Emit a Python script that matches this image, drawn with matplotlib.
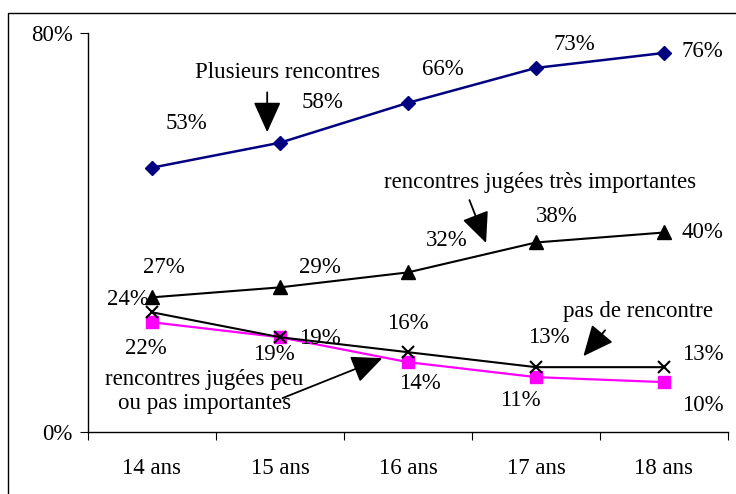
import matplotlib
matplotlib.use("Agg")
import matplotlib.pyplot as plt
from matplotlib.patches import Rectangle

# --------------------------------------------------------------------------- #
# data
# --------------------------------------------------------------------------- #
ages = ["14 ans", "15 ans", "16 ans", "17 ans", "18 ans"]
plusieurs = [53, 58, 66, 73, 76]
tres_importantes = [27, 29, 32, 38, 40]
pas_de_rencontre = [24, 19, 16, 13, 13]
peu_importantes = [22, 19, 14, 11, 10]

plt.rcParams["font.family"] = ["Liberation Serif", "DejaVu Serif"]
FS = 16.5

fig = plt.figure(figsize=(7.36, 4.94), dpi=100)
ax = fig.add_axes([88 / 736, 62 / 494, 640 / 736, 399 / 494])

x = list(range(len(ages)))
ax.plot(x, plusieurs, color="#000080", lw=1.8, marker="D", ms=7.5, zorder=3)
ax.plot(x, tres_importantes, color="black", lw=1.5, marker="^", ms=9.5, zorder=3)
ax.plot(x, peu_importantes, color="#ff00ff", lw=1.6, marker="s", ms=8.5,
        mfc="#ff00ff", mec="#ff00ff", zorder=3)
ax.plot(x, pas_de_rencontre, color="black", lw=1.5, marker="x", ms=9, mew=1.5, zorder=4)

ax.set_xlim(-0.5, 4.5)
ax.set_ylim(0, 80)

for s in ("top", "right"):
    ax.spines[s].set_visible(False)
for s in ("left", "bottom"):
    ax.spines[s].set_linewidth(1.0)

ax.set_yticks([0, 80])
ax.set_yticklabels(["0%", "80%"], fontsize=FS)
ax.tick_params(axis="y", direction="out", length=6, pad=5)

ax.set_xticks([-0.5, 0.5, 1.5, 2.5, 3.5, 4.5])
ax.set_xticklabels([])
ax.tick_params(axis="x", which="major", direction="out", length=6)
ax.set_xticks(x, minor=True)
ax.set_xticklabels(ages, minor=True, fontsize=FS)
ax.tick_params(axis="x", which="minor", length=0, pad=19)

# value labels (positions)
labels = [
    (0.27, 61.9, "53%"), (1.33, 66.1, "58%"), (2.27, 72.7, "66%"),
    (3.30, 77.6, "73%"), (4.30, 76.2, "76%"),
    (0.09, 32.9, "27%"), (1.31, 32.9, "29%"), (2.30, 38.3, "32%"),
    (3.16, 43.3, "38%"), (4.30, 39.9, "40%"),
    (-0.19, 26.5, "24%"), (1.31, 18.8, "19%"), (2.00, 21.8, "16%"),
    (3.10, 19.0, "13%"), (4.30, 15.6, "13%"),
    (-0.05, 16.8, "22%"), (0.95, 15.6, "19%"), (2.09, 9.8, "14%"),
    (2.88, 6.4, "11%"), (4.30, 5.4, "10%"),
]
for lx, ly, t in labels:
    ax.text(lx, ly, t, fontsize=FS, ha="center", va="center", clip_on=False)

arrow = dict(arrowstyle="-|>,head_length=1.0,head_width=0.45", color="black",
             lw=1.3, mutation_scale=19, shrinkA=0, shrinkB=0)

ax.text(1.06, 72.1, "Plusieurs rencontres", fontsize=FS, ha="center", va="center")
ax.annotate("", xy=(0.90, 60.1), xytext=(0.90, 68.1), arrowprops=arrow)

ax.text(3.03, 50.1, "rencontres jugées très importantes", fontsize=FS,
        ha="center", va="center")
ax.annotate("", xy=(2.61, 37.9), xytext=(2.48, 46.5), arrowprops=arrow)

ax.text(3.80, 24.2, "pas de rencontre", fontsize=FS, ha="center", va="center")
ax.annotate("", xy=(3.37, 15.2), xytext=(3.54, 20.4), arrowprops=arrow)

ax.text(0.41, 8.2, "rencontres jugées peu\nou pas importantes", fontsize=FS,
        ha="center", va="center", linespacing=1.2)
ax.annotate("", xy=(1.80, 14.8), xytext=(1.02, 6.8), arrowprops=arrow)

# outer frame of the chart area
fig.patches.append(Rectangle((8 / 736, -0.1), 1.2, 1.1 - 13 / 494,
                             transform=fig.transFigure, fill=False,
                             edgecolor="black", lw=1.0))

fig.savefig("out.png", dpi=100)
